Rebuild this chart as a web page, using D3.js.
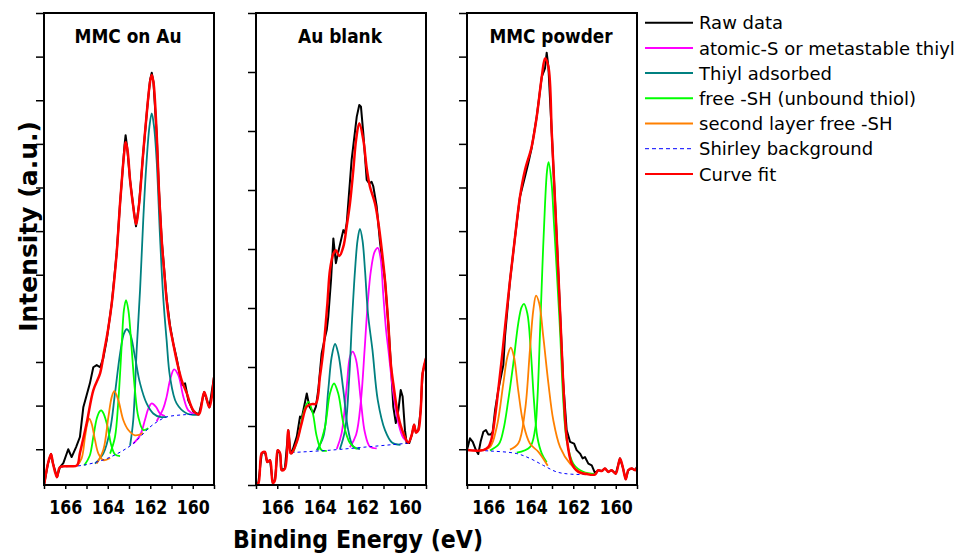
<!DOCTYPE html>
<html>
<head>
<meta charset="utf-8">
<script src="https://cdn.jsdelivr.net/npm/d3@7"></script>
<style>
  body { margin: 0; background: #fff; }
  svg { display: block; font-family: 'DejaVu Sans', sans-serif; }
</style>
</head>
<body>
<div id="chart"></div>
<script>
const panelTitles = ['MMC on Au', 'Au blank', 'MMC powder'];
const energyTicks = [159, 160, 161, 162, 163, 164, 165, 166, 167];
const energyLabels = [166, 164, 162, 160];
const legendLabels = ['Raw data', 'atomic-S or metastable thiyl', 'Thiyl adsorbed', 'free -SH (unbound thiol)',
    'second layer free -SH', 'Shirley background', 'Curve fit'];

// [binding energy (eV), intensity (a.u.)]
const mmcAuRaw = [[167.00,-0.83],[166.81,-0.32],[166.67,-0.11],[166.58,-0.32],[166.39,-0.64],[166.25,-0.41],[166.09,-0.32],
    [165.86,0.00],[165.70,-0.18],[165.49,0.05],[165.31,0.28],[165.15,0.96],[165.02,1.19],[164.84,1.51],[164.68,1.88],
    [164.52,1.93],[164.36,1.88],[164.21,2.09],[164.05,2.50],[163.81,3.35],[163.58,4.50],[163.42,5.64],[163.30,6.40],
    [163.21,6.97],[163.16,7.20],[163.09,6.93],[162.95,6.17],[162.81,5.60],[162.67,5.11],[162.53,5.60],[162.34,6.74],
    [162.15,7.78],[162.01,8.46],[161.93,8.63],[161.85,8.42],[161.70,7.25],[161.59,5.94],[161.46,4.79],[161.35,4.15],
    [161.23,3.46],[161.07,2.84],[160.92,2.43],[160.76,2.09],[160.52,1.47],[160.36,1.51],[160.21,1.12],[159.97,0.86],
    [159.71,0.80],[159.46,1.31],[159.22,0.96],[159.00,1.65]];
const mmcAuFit = [[167.00,-0.83],[166.81,-0.32],[166.67,-0.11],[166.58,-0.32],[166.39,-0.64],[166.25,-0.41],
    [165.78,-0.39],[165.45,-0.37],[165.31,-0.09],[164.99,0.60],[164.68,1.35],[164.36,1.74],[164.18,2.22],[163.99,2.73],
    [163.81,3.35],[163.58,4.50],[163.42,5.64],[163.30,6.40],[163.21,6.86],[163.16,7.04],[163.07,6.86],[162.95,6.17],
    [162.81,5.60],[162.67,5.16],[162.53,5.60],[162.34,6.74],[162.15,7.78],[162.01,8.42],[161.93,8.58],[161.85,8.42],
    [161.70,7.25],[161.59,5.94],[161.46,4.79],[161.35,4.11],[161.23,3.42],[161.07,2.80],[160.92,2.43],[160.76,2.04],
    [160.52,1.58],[160.28,1.28],[159.97,0.89],[159.71,0.80],[159.46,1.31],[159.22,0.96],[159.00,1.65]];
const mmcAuShirley = [[166.25,-0.41],[165.93,-0.40],[165.20,-0.37],[164.36,-0.27],[163.58,-0.11],[162.80,0.13],
    [162.01,0.51],[161.54,0.67],[161.23,0.74],[160.44,0.79],[159.71,0.80]];
const mmcAuAtomicS = [
    [[162.80,0.13],[162.48,0.32],[162.25,0.67],[162.09,0.93],[161.93,1.05],[161.73,0.97],[161.54,0.82],[161.31,0.76]],
    [[161.70,0.64],[161.39,0.93],[161.23,1.20],[161.07,1.58],[160.88,1.83],[160.68,1.70],[160.44,1.20],[160.21,0.89],[159.89,0.80]]
];
const mmcAuThiyl = [
    [[164.60,-0.33],[164.21,-0.10],[163.89,0.44],[163.66,1.28],[163.42,2.19],[163.24,2.65],[163.11,2.75],[162.95,2.65],
     [162.72,2.12],[162.48,1.51],[162.17,1.05],[161.86,0.82],[161.54,0.74],[161.23,0.74]],
    [[162.95,0.08],[162.80,0.67],[162.64,2.27],[162.48,3.65],[162.33,5.25],[162.20,6.40],[162.04,7.39],[161.93,7.70],
     [161.82,7.39],[161.70,6.63],[161.54,4.87],[161.39,3.49],[161.23,2.50],[161.07,1.66],[160.76,1.05],[160.28,0.82],[159.71,0.79]]
];
const mmcAuFreeSH = [
    [[165.10,-0.37],[164.85,-0.15],[164.68,0.28],[164.52,0.70],[164.38,0.87],[164.30,0.89],[164.18,0.80],[164.00,0.50],
     [163.84,0.10],[163.66,-0.12],[163.42,-0.16]],
    [[163.89,-0.10],[163.66,0.28],[163.50,1.12],[163.34,2.42],[163.24,3.19],[163.14,3.42],[163.03,3.19],[162.87,2.27],
     [162.72,1.35],[162.56,0.74],[162.33,0.44],[162.09,0.48]]
];
const mmcAuSecondLayer = [
    [[165.46,-0.39],[165.23,-0.21],[165.07,0.28],[164.96,0.59],[164.87,0.70],[164.76,0.59],[164.60,0.21],[164.44,-0.10],
     [164.21,-0.25],[163.89,-0.20]],
    [[164.52,-0.33],[164.21,-0.02],[163.97,0.74],[163.81,1.20],[163.69,1.33],[163.50,1.12],[163.27,0.67],[163.03,0.44],
     [162.72,0.32],[162.33,0.37]]
];

const auBlankRaw = [[167.00,0.03],[166.89,0.03],[166.73,0.54],[166.58,0.56],[166.47,0.39],[166.34,0.42],[166.21,0.03],
    [166.11,0.08],[165.98,0.59],[165.87,0.54],[165.79,0.25],[165.64,0.28],[165.48,0.93],[165.37,0.54],[165.32,0.54],
    [165.08,0.82],[164.93,1.16],[164.85,1.13],[164.61,1.55],[164.49,1.33],[164.30,1.22],[164.18,1.33],[164.07,1.61],
    [163.91,2.23],[163.75,2.51],[163.67,2.63],[163.60,2.85],[163.47,3.47],[163.36,4.18],[163.24,3.76],[163.13,3.95],
    [162.89,4.32],[162.81,4.27],[162.73,4.44],[162.50,5.51],[162.26,6.24],[162.14,6.44],[162.06,6.41],[161.95,5.96],
    [161.79,5.17],[161.67,5.11],[161.56,5.14],[161.48,5.06],[161.32,4.72],[161.16,4.10],[160.93,3.47],[160.77,2.71],
    [160.65,2.03],[160.54,1.33],[160.42,1.05],[160.30,1.27],[160.19,1.61],[160.10,1.50],[159.99,0.93],[159.91,0.71],
    [159.79,0.71],[159.67,0.85],[159.56,1.02],[159.47,0.89],[159.36,0.93],[159.25,1.27],[159.16,1.89],[159.00,2.15]];
const auBlankFit = [[167.00,0.03],[166.89,0.03],[166.73,0.54],[166.58,0.56],[166.47,0.39],[166.34,0.42],[166.21,0.03],
    [166.11,0.08],[165.98,0.59],[165.87,0.54],[165.79,0.25],[165.64,0.28],[165.48,0.93],[165.37,0.54],[165.32,0.54],
    [165.08,0.73],[164.85,1.05],[164.61,1.33],[164.38,1.37],[164.18,1.38],[163.99,1.84],[163.83,2.29],[163.64,3.08],
    [163.52,3.64],[163.36,3.92],[163.24,3.98],[163.08,3.88],[162.89,4.04],[162.73,4.39],[162.58,4.77],[162.42,5.34],
    [162.29,5.85],[162.14,6.13],[161.95,5.85],[161.79,5.37],[161.64,5.06],[161.40,4.77],[161.24,4.44],[161.08,3.98],
    [160.93,3.47],[160.77,2.71],[160.65,2.03],[160.54,1.72],[160.30,1.16],[160.07,0.88],[159.83,0.72],[159.67,0.85],
    [159.56,1.02],[159.47,0.89],[159.36,0.93],[159.25,1.27],[159.16,1.89],[159.00,2.15]];
const auBlankShirley = [[165.32,0.55],[163.52,0.59],[161.64,0.65],[159.79,0.71]];
const auBlankAtomicS = [
    [[163.20,0.61],[162.97,0.88],[162.73,1.67],[162.58,2.17],[162.45,2.26],[162.29,2.12],[162.07,1.44],[161.87,0.88],
     [161.64,0.65],[161.32,0.62]],
    [[162.58,0.64],[162.29,0.85],[162.06,1.44],[161.89,2.29],[161.73,3.14],[161.59,3.64],[161.42,3.95],[161.27,4.02],
     [161.14,3.85],[161.01,3.22],[160.88,2.63],[160.77,2.29],[160.54,1.56],[160.30,1.05],[160.07,0.80],[159.79,0.71]]
];
const auBlankThiyl = [
    [[164.14,0.59],[163.83,0.82],[163.60,1.61],[163.44,2.17],[163.28,2.39],[163.13,2.23],[162.89,1.61],[162.66,0.93],
     [162.42,0.65],[162.11,0.61]],
    [[163.05,0.61],[162.81,0.93],[162.62,1.78],[162.48,2.80],[162.34,3.64],[162.22,4.15],[162.11,4.34],[161.99,4.15],
     [161.87,3.64],[161.73,2.90],[161.52,2.29],[161.27,1.44],[160.93,0.93],[160.60,0.72],[160.20,0.68]]
];
const auBlankFreeSH = [
    [[165.24,0.56],[165.01,0.82],[164.77,1.22],[164.54,1.41],[164.33,1.22],[164.14,0.82],[163.91,0.59],[163.67,0.58]],
    [[164.07,0.59],[163.75,0.99],[163.52,1.55],[163.33,1.72],[163.13,1.55],[162.89,1.05],[162.58,0.71],[162.26,0.61]]
];
const auBlankSecondLayer = [];

const mmcPowderRaw = [[167.00,-0.02],[166.86,0.25],[166.73,0.17],[166.58,-0.02],[166.47,-0.11],[166.36,0.17],
    [166.23,0.40],[166.11,0.44],[166.00,0.34],[165.88,0.34],[165.79,0.40],[165.68,0.89],[165.53,1.35],[165.37,1.74],
    [165.29,1.93],[165.21,2.60],[164.98,3.85],[164.74,4.86],[164.51,5.78],[164.27,6.25],[164.12,6.55],[163.96,6.90],
    [163.72,7.62],[163.48,8.54],[163.33,8.73],[163.25,9.09],[163.17,8.77],[163.01,7.24],[162.86,5.71],[162.75,4.56],
    [162.54,2.27],[162.47,1.51],[162.31,0.44],[162.15,0.17],[161.96,0.13],[161.84,-0.02],[161.68,-0.10],[161.56,-0.21],
    [161.45,-0.18],[161.29,-0.33],[161.13,-0.37],[160.98,-0.54],[160.82,-0.48],[160.66,-0.50],[160.51,-0.44],
    [160.35,-0.52],[160.19,-0.48],[160.00,-0.56],[159.80,-0.21],[159.67,-0.41],[159.53,-0.69],[159.41,-0.48],
    [159.25,-0.44],[159.09,-0.48],[159.00,-0.41]];
const mmcPowderFit = [[167.00,-0.02],[166.23,-0.02],[166.00,0.05],[165.84,0.25],[165.68,0.74],[165.53,1.35],
    [165.37,2.04],[165.21,2.80],[164.98,3.85],[164.74,4.86],[164.51,5.78],[164.27,6.40],[163.96,6.93],[163.72,7.62],
    [163.48,8.54],[163.33,8.96],[163.17,8.77],[163.01,7.24],[162.86,5.71],[162.75,4.56],[162.54,2.27],[162.47,1.51],
    [162.31,0.28],[162.07,-0.33],[161.76,-0.52],[161.37,-0.57],[160.98,-0.58],[160.82,-0.48],[160.66,-0.50],
    [160.51,-0.44],[160.35,-0.52],[160.19,-0.48],[160.00,-0.56],[159.80,-0.21],[159.67,-0.41],[159.53,-0.69],
    [159.41,-0.48],[159.25,-0.44],[159.09,-0.48],[159.00,-0.41]];
const mmcPowderShirley = [[167.00,-0.02],[165.92,-0.04],[164.66,-0.10],[164.04,-0.21],[163.41,-0.37],[162.78,-0.52],
    [162.15,-0.57],[160.98,-0.58]];
const mmcPowderAtomicS = [];
const mmcPowderThiyl = [];
const mmcPowderFreeSH = [
    [[165.92,-0.03],[165.50,0.12],[165.29,0.44],[165.06,1.12],[164.82,1.97],[164.59,2.88],[164.43,3.26],[164.32,3.33],
     [164.16,3.11],[164.00,2.27],[163.85,1.12],[163.69,0.28],[163.48,-0.10],[163.25,-0.30]],
    [[164.66,-0.08],[164.04,0.05],[163.80,0.44],[163.69,1.12],[163.56,2.73],[163.45,4.20],[163.33,5.60],[163.23,6.40],
     [163.16,6.58],[163.02,6.10],[162.91,5.20],[162.79,4.20],[162.62,2.70],[162.47,1.12],[162.31,0.21],[162.00,-0.33],
     [161.53,-0.52],[160.98,-0.57]]
];
const mmcPowderSecondLayer = [
    [[166.39,-0.02],[165.92,0.05],[165.60,0.51],[165.29,1.51],[165.10,2.12],[164.94,2.33],[164.79,2.12],[164.59,1.35],
     [164.35,0.59],[164.04,0.13],[163.64,-0.06],[163.20,-0.38]],
    [[164.98,-0.01],[164.59,0.13],[164.27,0.89],[164.04,2.27],[163.88,3.19],[163.75,3.52],[163.60,3.34],[163.41,2.58],
     [163.17,1.51],[162.94,0.67],[162.62,0.05],[162.15,-0.33],[161.68,-0.52],[161.20,-0.57]]
];

const colors = {
    raw: '#000000', atomicS: '#ff00ff', thiyl: '#008080', freeSH: '#00ff00',
    secondLayer: '#ff8000', shirley: '#0000ff', fit: '#ff0000'
};

document.addEventListener('DOMContentLoaded', function() {
    renderChart();
});

function renderChart() {
    const width = 957;
    const height = 557;
    const top = 13;
    const bottom = 485;
    const panelWidth = 170;

    const panels = [
        { title: panelTitles[0], left: 44, titleWidth: 107, yDomain: [-0.82, 10], yTicks: d3.range(0, 11),
          raw: mmcAuRaw, fit: mmcAuFit, shirley: mmcAuShirley,
          atomicS: mmcAuAtomicS, thiyl: mmcAuThiyl, freeSH: mmcAuFreeSH, secondLayer: mmcAuSecondLayer },
        { title: panelTitles[1], left: 256, titleWidth: 84, yDomain: [0, 8], yTicks: d3.range(0, 9),
          raw: auBlankRaw, fit: auBlankFit, shirley: auBlankShirley,
          atomicS: auBlankAtomicS, thiyl: auBlankThiyl, freeSH: auBlankFreeSH, secondLayer: auBlankSecondLayer },
        { title: panelTitles[2], left: 467, titleWidth: 123, yDomain: [-0.82, 10], yTicks: d3.range(0, 11),
          raw: mmcPowderRaw, fit: mmcPowderFit, shirley: mmcPowderShirley,
          atomicS: mmcPowderAtomicS, thiyl: mmcPowderThiyl, freeSH: mmcPowderFreeSH, secondLayer: mmcPowderSecondLayer }
    ];

    const svg = d3.select('#chart').append('svg')
        .attr('width', width)
        .attr('height', height);

    panels.forEach((p, i) => {
        const x = d3.scaleLinear().domain([167, 159]).range([p.left, p.left + panelWidth]);
        const y = d3.scaleLinear().domain(p.yDomain).range([bottom, top]);

        const line = d3.line()
            .x(d => x(d[0]))
            .y(d => y(d[1]))
            .curve(d3.curveCatmullRom.alpha(0.5));

        const clipId = 'clip-' + i;
        svg.append('clipPath').attr('id', clipId)
            .append('rect')
            .attr('x', p.left).attr('y', top)
            .attr('width', panelWidth).attr('height', bottom - top);

        const plot = svg.append('g').attr('clip-path', `url(#${clipId})`);

        plot.append('path')
            .datum(p.raw)
            .attr('fill', 'none')
            .attr('stroke', colors.raw)
            .attr('stroke-width', 2)
            .attr('stroke-linejoin', 'round')
            .attr('d', d3.line().x(d => x(d[0])).y(d => y(d[1])));

        ['atomicS', 'thiyl', 'freeSH', 'secondLayer'].forEach(key => {
            plot.selectAll(null)
                .data(p[key])
                .enter()
                .append('path')
                .attr('fill', 'none')
                .attr('stroke', colors[key])
                .attr('stroke-width', 1.8)
                .attr('d', line);
        });

        plot.append('path')
            .datum(p.shirley)
            .attr('fill', 'none')
            .attr('stroke', colors.shirley)
            .attr('stroke-width', 1)
            .attr('stroke-dasharray', '3,3')
            .attr('d', line);

        plot.append('path')
            .datum(p.fit)
            .attr('fill', 'none')
            .attr('stroke', colors.fit)
            .attr('stroke-width', 2.5)
            .attr('stroke-linejoin', 'round')
            .attr('d', line);

        // frame
        svg.append('rect')
            .attr('x', p.left).attr('y', top)
            .attr('width', panelWidth).attr('height', bottom - top)
            .attr('fill', 'none')
            .attr('stroke', '#000')
            .attr('stroke-width', 2);

        const yAxis = svg.append('g')
            .attr('transform', `translate(${p.left},0)`)
            .call(d3.axisLeft(y).tickValues(p.yTicks).tickSize(8).tickFormat(''));
        yAxis.select('.domain').remove();
        yAxis.selectAll('line').attr('stroke-width', 1.5);

        const xAxis = svg.append('g')
            .attr('transform', `translate(0,${bottom})`)
            .call(d3.axisBottom(x).tickValues(energyTicks).tickSize(4).tickPadding(11)
                .tickFormat(d => energyLabels.includes(d) ? d : ''));
        xAxis.select('.domain').remove();
        xAxis.selectAll('line').attr('stroke-width', 1.5);
        xAxis.selectAll('text')
            .attr('font-family', 'DejaVu Sans')
            .attr('font-size', 20)
            .attr('font-weight', 'bold')
            .attr('fill', '#000')
            .filter(d => energyLabels.includes(d))
            .attr('textLength', 33)
            .attr('lengthAdjust', 'spacingAndGlyphs');

        svg.append('text')
            .text(p.title)
            .attr('x', p.left + panelWidth / 2 - 1)
            .attr('y', 43)
            .attr('text-anchor', 'middle')
            .attr('font-size', 20)
            .attr('font-weight', 'bold')
            .attr('textLength', p.titleWidth)
            .attr('lengthAdjust', 'spacingAndGlyphs');
    });

    svg.append('text')
        .text('Binding Energy (eV)')
        .attr('x', 358)
        .attr('y', 548)
        .attr('text-anchor', 'middle')
        .attr('font-size', 25)
        .attr('font-weight', 'bold')
        .attr('textLength', 250)
        .attr('lengthAdjust', 'spacingAndGlyphs');

    svg.append('text')
        .text('Intensity (a.u.)')
        .attr('transform', 'translate(36.5,226.5) rotate(-90)')
        .attr('text-anchor', 'middle')
        .attr('font-size', 25)
        .attr('font-weight', 'bold');

    const legendKeys = ['raw', 'atomicS', 'thiyl', 'freeSH', 'secondLayer', 'shirley', 'fit'];
    const legend = svg.append('g')
        .selectAll('g')
        .data(legendLabels)
        .enter()
        .append('g')
        .attr('transform', (d, i) => `translate(645,${22.7 + i * 25.2})`);

    legend.append('line')
        .attr('x1', 0).attr('x2', 48)
        .attr('stroke', (d, i) => colors[legendKeys[i]])
        .attr('stroke-width', (d, i) => legendKeys[i] === 'shirley' ? 1 : 2)
        .attr('stroke-dasharray', (d, i) => legendKeys[i] === 'shirley' ? '4,3' : null);

    legend.append('text')
        .text(d => d)
        .attr('x', 54)
        .attr('y', 6.7)
        .attr('font-size', 18)
        .attr('fill', '#000');
}
</script>
</body>
</html>
